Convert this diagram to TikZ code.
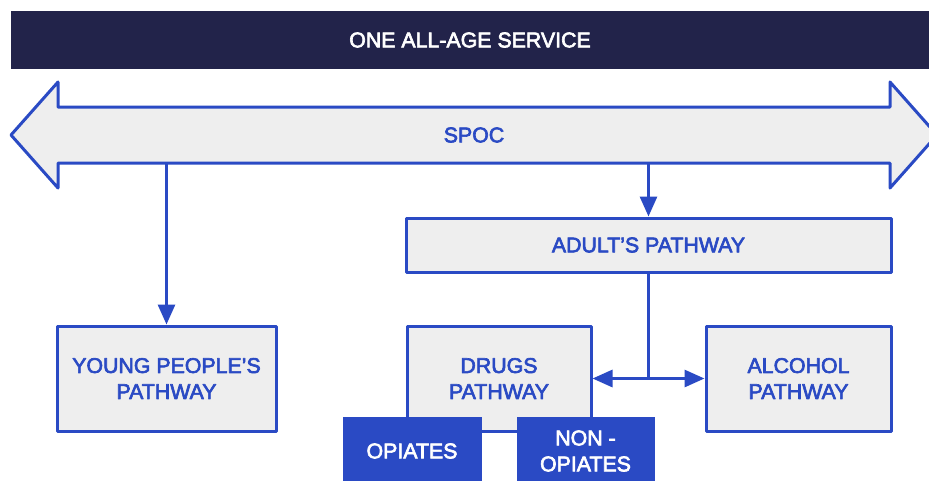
\documentclass[tikz,border=0pt]{standalone}
\usepackage{fontspec}
\setmainfont{Liberation Sans}[RawFeature={embolden=3}]
\usetikzlibrary{arrows.meta}

\definecolor{navybar}{RGB}{34,35,74}
\definecolor{pathblue}{RGB}{42,74,196}
\definecolor{boxgrey}{RGB}{238,238,238}

\tikzset{
  pathbox/.style={draw=pathblue, fill=boxgrey, line width=2.25pt, line join=round,
    text=pathblue, align=center, inner sep=0pt},
  subbox/.style={draw=pathblue, fill=pathblue, line width=0.75pt,
    text=white, align=center, inner sep=0pt},
  link/.style={draw=pathblue, line width=2.25pt, -{Triangle[length=15pt,width=12.75pt]}},
}

\begin{document}
\begin{tikzpicture}[x=0.75pt,y=0.75pt,yscale=-1,xscale=1,
  font=\fontsize{16}{19.5}\selectfont]
\clip (0,0) rectangle (929,480);
\fill[white] (0,0) rectangle (929,480);

%Title bar
\node (service) at (470,40) [fill=navybar, minimum width=688.5pt, minimum height=43.5pt,
  text=white, inner sep=0pt] {ONE ALL-AGE SERVICE};

%Shape: Double arrow
\draw [draw=pathblue, fill=boxgrey, line width=2.25pt, line join=round]
  (11,135) -- (58,82) -- (58,107) -- (890,107) -- (890,82) -- (937,135)
  -- (890,188) -- (890,163) -- (58,163) -- (58,188) -- cycle ;
\node (spoc) at (474,135) [text=pathblue] {SPOC};
\coordinate (spocL) at (166.5,163);
\coordinate (spocR) at (648.5,163);

%Boxes
\node (adult) at (648.5,245) [pathbox, minimum width=363.75pt, minimum height=40.5pt] {ADULT’S PATHWAY};
\node (young) at (166.5,378.5) [pathbox, minimum width=164.25pt, minimum height=78.75pt] {YOUNG PEOPLE’S\\PATHWAY};
\node (drugs) at (499,378.5) [pathbox, minimum width=138pt, minimum height=78.75pt] {DRUGS\\PATHWAY};
\node (alcohol) at (798.5,378.5) [pathbox, minimum width=138.75pt, minimum height=78.75pt] {ALCOHOL\\PATHWAY};

%Sub boxes
\node (opiates) at (412,451) [subbox, minimum width=103.5pt, minimum height=51pt] {OPIATES};
\node (nonopiates) at (585.5,451) [subbox, minimum width=102.75pt, minimum height=51pt] {NON -\\OPIATES};

%Connectors
\draw [link] (spocL) -- (young.north);
\draw [link] (spocR) -- (adult.north);
\coordinate (split) at (adult.south |- drugs.east);
\draw [draw=pathblue, line width=2.25pt] (adult.south) -- (split);
\draw [link] (split) -- (drugs.east);
\draw [link] (split) -- (alcohol.west);

\end{tikzpicture}
\end{document}
